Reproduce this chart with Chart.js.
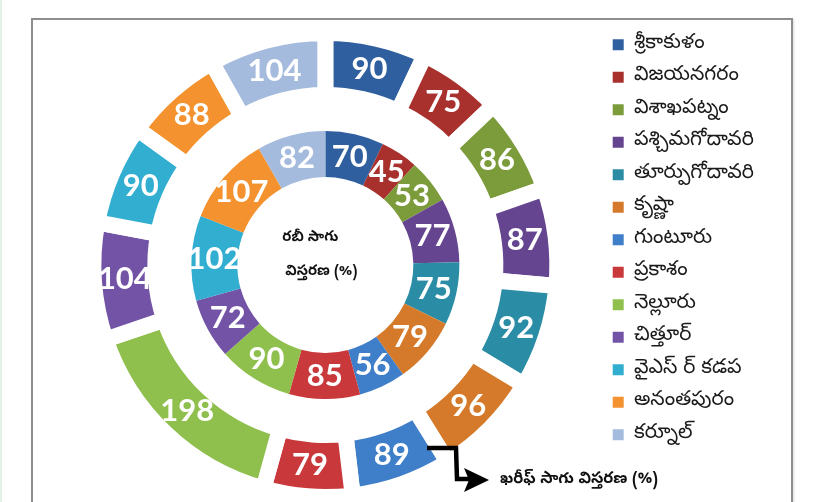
<!DOCTYPE html>
<html>
<head>
<meta charset="utf-8">
<script src="https://cdn.jsdelivr.net/npm/chart.js@4.4.1/dist/chart.umd.min.js"></script>
<style>
  html, body { margin: 0; padding: 0; width: 823px; height: 502px; overflow: hidden; background: #ffffff; }
  #strip { position: absolute; left: 0; top: 0; width: 2px; height: 502px; background: #e4f1e8; }
  #frame { position: absolute; left: 31px; top: 18px; width: 762px; height: 600px; box-sizing: border-box;
           border: 2px solid #8e8e8e; box-shadow: 1px 1px 2px rgba(0,0,0,0.15); background: #fff; }
  #wrap { position: absolute; left: 0; top: 0; width: 823px; height: 530px; }
</style>
</head>
<body>
<div id="strip"></div>
<div id="frame"></div>
<div id="wrap"><canvas id="c" width="823" height="530" style="width:823px;height:530px"></canvas></div>
<script>
// ---- data ----
const districts = ['శ్రీకాకుళం','విజయనగరం','విశాఖపట్నం','పశ్చిమగోదావరి','తూర్పుగోదావరి','కృష్ణా','గుంటూరు','ప్రకాశం','నెల్లూరు','చిత్తూర్','వైఎస్ ర్ కడప','అనంతపురం','కర్నూల్'];
const kharifValues = [90, 75, 86, 87, 92, 96, 89, 79, 198, 104, 90, 88, 104];
const rabiValues   = [70, 45, 53, 77, 75, 79, 56, 85, 90, 72, 102, 107, 82];
const districtColors = ['#2f5f9e','#a8312e','#7c9c3b','#65458f','#2a8ca5','#d47a2a','#3f7ec8','#c9393b','#8fbf4d','#7353a5','#31aed0','#f3922f','#a4bbdd'];
const rabiTitle = ['రబీ సాగు', 'విస్తరణ (%)'];
const kharifTitle = 'ఖరీఫ్ సాగు విస్తరణ (%)';

const TEL = '"Noto Sans Telugu", "Noto Sans", sans-serif';

const labelPlugin = {
  id: 'ringLabels',
  afterDatasetsDraw(chart) {
    const ctx = chart.ctx;
    ctx.save();
    ctx.fillStyle = '#ffffff';
    ctx.textAlign = 'center';
    ctx.textBaseline = 'middle';
    ctx.font = 'bold 31px Lato, "Open Sans", sans-serif';
    [0, 2].forEach(di => {
      const meta = chart.getDatasetMeta(di);
      const ds = chart.data.datasets[di];
      meta.data.forEach((arc, i) => {
        const p = arc.getProps(['x','y','startAngle','endAngle','innerRadius','outerRadius'], true);
        const a = (p.startAngle + p.endAngle) / 2;
        const r = (p.innerRadius + p.outerRadius) / 2;
        ctx.fillText(String(ds.data[i]), p.x + Math.cos(a) * r, p.y + Math.sin(a) * r);
      });
    });
    // centre text
    const m = chart.getDatasetMeta(2).data[0];
    const cx = m.x, cy = m.y;
    ctx.fillStyle = '#111111';
    ctx.font = 'bold 14.5px ' + TEL;
    ctx.fillText(rabiTitle[0], cx - 15, cy - 26);
    ctx.fillText(rabiTitle[1], cx - 4, cy + 8);
    // kharif annotation with elbow arrow
    ctx.strokeStyle = '#000000';
    ctx.lineWidth = 4.5;
    ctx.lineJoin = 'miter';
    ctx.beginPath();
    ctx.moveTo(427, 448);
    ctx.lineTo(456, 448);
    ctx.lineTo(457, 479);
    ctx.lineTo(472, 479);
    ctx.stroke();
    ctx.fillStyle = '#000000';
    ctx.beginPath();
    ctx.moveTo(489, 480);
    ctx.lineTo(464, 468);
    ctx.lineTo(469, 480);
    ctx.lineTo(464, 492);
    ctx.closePath();
    ctx.fill();
    ctx.fillStyle = '#111111';
    ctx.textAlign = 'left';
    ctx.font = 'bold 16px ' + TEL;
    ctx.fillText(kharifTitle, 500, 481);
    ctx.restore();
  }
};

new Chart(document.getElementById('c'), {
  type: 'doughnut',
  data: {
    labels: districts,
    datasets: [
      { data: kharifValues, backgroundColor: districtColors, borderColor: '#ffffff', borderWidth: 16, weight: 62 },
      { data: [1], backgroundColor: 'rgba(0,0,0,0)', borderWidth: 0, weight: 36 },
      { data: rabiValues, backgroundColor: districtColors, borderWidth: 0, weight: 46 }
    ]
  },
  options: {
    responsive: false,
    animation: false,
    events: [],
    radius: 232,
    cutout: '37.93%',
    layout: { padding: { top: 22.5, bottom: 22.5, left: 50, right: 59 } },
    plugins: {
      tooltip: { enabled: false },
      legend: {
        position: 'right',
        align: 'start',
        maxWidth: 190,
        labels: {
          boxWidth: 11,
          boxHeight: 11,
          padding: 12,
          color: '#1a1a1a',
          font: { size: 20.5, family: TEL },
          generateLabels(chart) {
            return chart.data.labels.map((t, i) => ({
              text: t, fillStyle: districtColors[i], strokeStyle: districtColors[i],
              lineWidth: 0, hidden: false, index: i, fontColor: '#1a1a1a'
            }));
          }
        }
      }
    }
  },
  plugins: [labelPlugin]
});
</script>
</body>
</html>
